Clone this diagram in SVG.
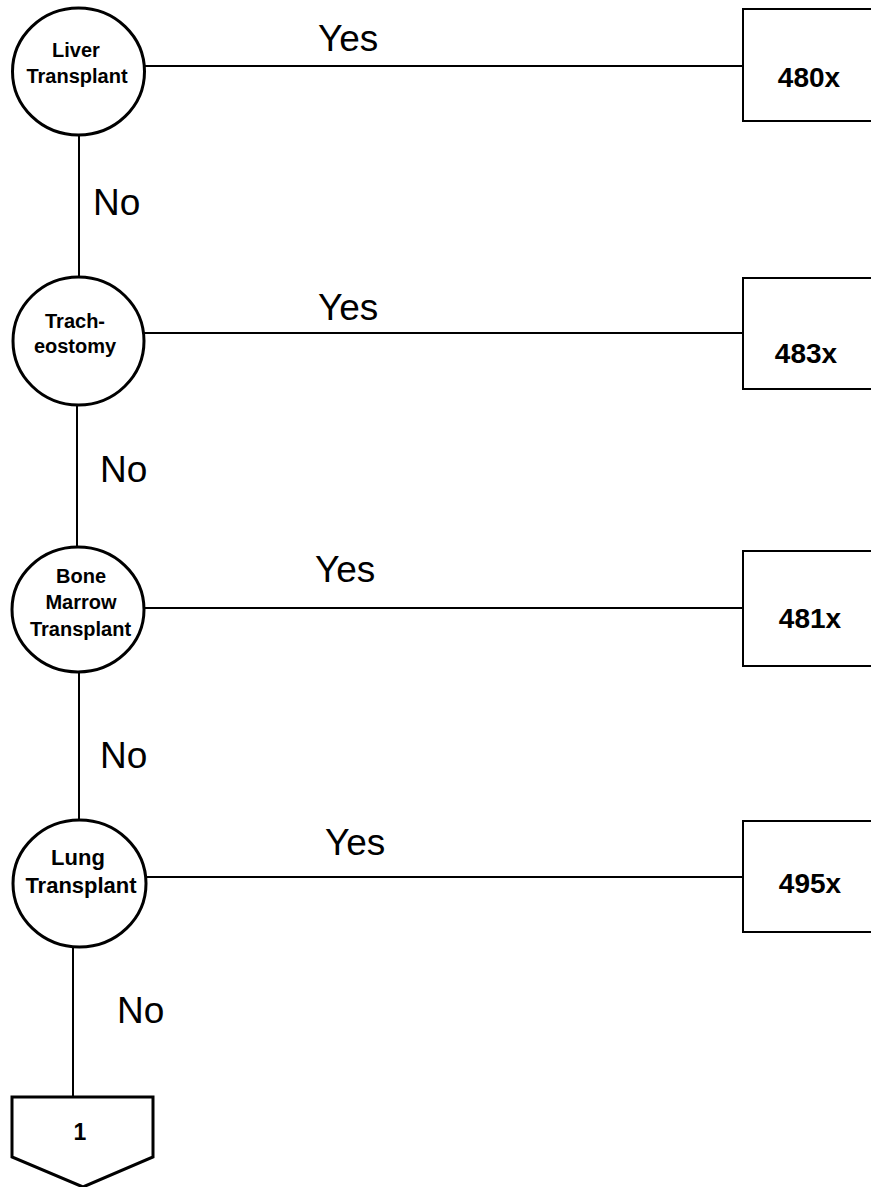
<svg xmlns="http://www.w3.org/2000/svg" width="871" height="1187" viewBox="0 0 871 1187">
<style>
.node{fill:#fff;stroke:#000;stroke-width:3}
.box{fill:#fff;stroke:#000;stroke-width:2}
.conn{stroke:#000;stroke-width:2;fill:none}
.nt{font-family:"Liberation Sans",Arial,sans-serif;font-weight:bold;font-size:20px;text-anchor:middle;fill:#000}
.bt{font-family:"Liberation Sans",Arial,sans-serif;font-weight:bold;font-size:28px;text-anchor:middle;fill:#000}
.lbl{font-family:"Liberation Sans",Arial,sans-serif;font-size:37px;fill:#000}
</style>
<rect width="871" height="1187" fill="#fff"/>
<g id="connectors">
<line class="conn" x1="145" y1="66" x2="743" y2="66"/>
<line class="conn" x1="144" y1="333" x2="743" y2="333"/>
<line class="conn" x1="144" y1="608" x2="743" y2="608"/>
<line class="conn" x1="146" y1="877" x2="743" y2="877"/>
<line class="conn" x1="79" y1="135" x2="79" y2="277"/>
<line class="conn" x1="77" y1="405" x2="77" y2="547"/>
<line class="conn" x1="79" y1="672" x2="79" y2="820"/>
<line class="conn" x1="73" y1="947" x2="73" y2="1097"/>
<text class="lbl" x="318" y="51">Yes</text>
<text class="lbl" x="318" y="320">Yes</text>
<text class="lbl" x="315" y="582">Yes</text>
<text class="lbl" x="325" y="855">Yes</text>
<text class="lbl" x="93" y="215">No</text>
<text class="lbl" x="100" y="482">No</text>
<text class="lbl" x="100" y="768">No</text>
<text class="lbl" x="117" y="1023">No</text>
</g>
<g id="liver">
<ellipse class="node" cx="78.5" cy="71.5" rx="66" ry="63.5"/>
<text class="nt" x="76" y="57">Liver</text>
<text class="nt" x="77" y="83">Transplant</text>
</g>
<g id="trach">
<ellipse class="node" cx="78.5" cy="341" rx="65.5" ry="64"/>
<text class="nt" x="75" y="328">Trach-</text>
<text class="nt" x="75" y="353">eostomy</text>
</g>
<g id="bone">
<ellipse class="node" cx="78" cy="609.5" rx="66" ry="62.5"/>
<text class="nt" x="81" y="583">Bone</text>
<text class="nt" x="81" y="609">Marrow</text>
<text class="nt" x="80.5" y="636">Transplant</text>
</g>
<g id="lung">
<ellipse class="node" cx="79.5" cy="883.5" rx="66.5" ry="63.5"/>
<text class="nt" x="78" y="865" style="font-size:22px">Lung</text>
<text class="nt" x="81" y="893" style="font-size:22px">Transplant</text>
</g>
<g id="b480">
<rect class="box" x="743" y="9" width="140" height="112"/>
<text class="bt" x="809" y="87">480x</text>
</g>
<g id="b483">
<rect class="box" x="743" y="278" width="140" height="111"/>
<text class="bt" x="806" y="363">483x</text>
</g>
<g id="b481">
<rect class="box" x="743" y="551" width="140" height="115"/>
<text class="bt" x="810" y="628">481x</text>
</g>
<g id="b495">
<rect class="box" x="743" y="821" width="140" height="111"/>
<text class="bt" x="810" y="893">495x</text>
</g>
<g id="offpage">
<polygon class="node" points="12,1097 153,1097 153,1157 83,1187 12,1157"/>
<text class="nt" x="80" y="1140" style="font-size:23px">1</text>
</g>
</svg>
